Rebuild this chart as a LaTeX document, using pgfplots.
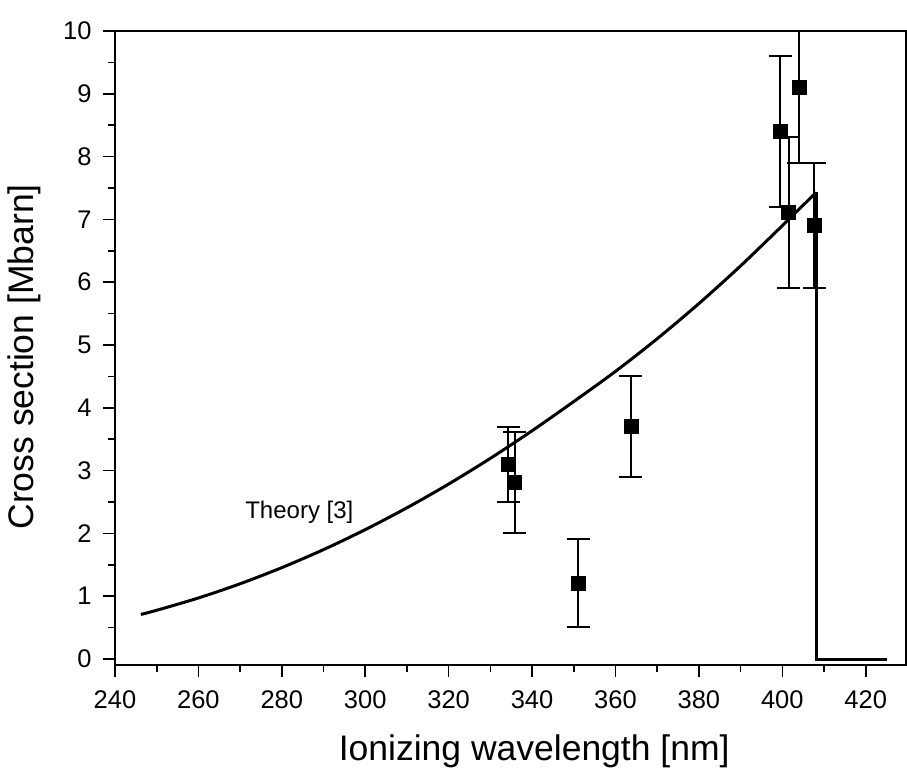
\documentclass[border=0pt]{standalone}
\usepackage{fontspec}
\setmainfont{Liberation Sans}
\usepackage{pgfplots}
\pgfplotsset{compat=1.18}
\begin{document}
\begin{tikzpicture}[x=1pt,y=1pt]
\begin{axis}[
  at={(0,0)}, anchor=south west,
  scale only axis, width=791pt, height=634pt,
  xmin=240, xmax=429.66, ymin=-0.0955, ymax=10,
  xtick={240,260,...,420}, ytick={0,1,...,10},
  minor x tick num=1, minor y tick num=1,
  tick align=outside, xtick pos=bottom, ytick pos=left,
  major tick length=12pt, minor tick length=6.5pt,
  every tick/.style={black, line width=1.6pt},
  axis line style={line width=1.6pt},
  /pgf/number format/assume math mode=true,
  ticklabel style={font=\fontsize{25.5}{30}\selectfont},
  xticklabel style={yshift=-10pt},
  yticklabel style={xshift=-8pt},
  label style={font=\fontsize{35.5}{42}\selectfont},
  xlabel={Ionizing wavelength [nm]},
  ylabel={Cross section [Mbarn]},
  xlabel style={at={(axis description cs:0.530,-0.1500)}, anchor=base},
  ylabel style={at={(axis description cs:-0.1024,0.486)}, anchor=base},
  clip=true,
]
% theory curve
\addplot[black, line width=3pt, smooth] coordinates {
 (246.2,0.71) (250,0.776) (260,0.972) (270,1.198) (280,1.455) (290,1.742)
 (300,2.060) (310,2.408) (320,2.786) (330,3.195) (340,3.634) (350,4.100)
 (360,4.580) (370,5.100) (380,5.660) (390,6.260) (400,6.900) (408.1,7.43)
};
\addplot[black, line width=3pt] coordinates {
 (408.1,7.43) (408.1,0) (425,0)
};
% measured points
\addplot[black, only marks, mark=square*, mark size=7pt,
  error bars/.cd, y dir=both, y explicit,
  error bar style={line width=2pt, black},
  error mark options={rotate=90, mark size=11.5pt, line width=2pt, black}]
 coordinates {
 (334.3,3.10) +- (0,0.6)
 (335.8,2.81) +- (0,0.8)
 (351.1,1.21) +- (0,0.7)
 (363.7,3.70) +- (0,0.8)
 (399.5,8.40) +- (0,1.2)
 (401.5,7.11) +- (0,1.2)
 (404.0,9.10) +- (0,1.2)
 (407.7,6.90) +- (0,1.0)
};
\node[anchor=west, inner sep=0pt, font=\fontsize{24}{28}\selectfont] at (axis cs:271.2,2.33) {Theory [3]};
\end{axis}
\pgfresetboundingbox
\path (-115,-109) rectangle (792,665);
\end{tikzpicture}
\end{document}
